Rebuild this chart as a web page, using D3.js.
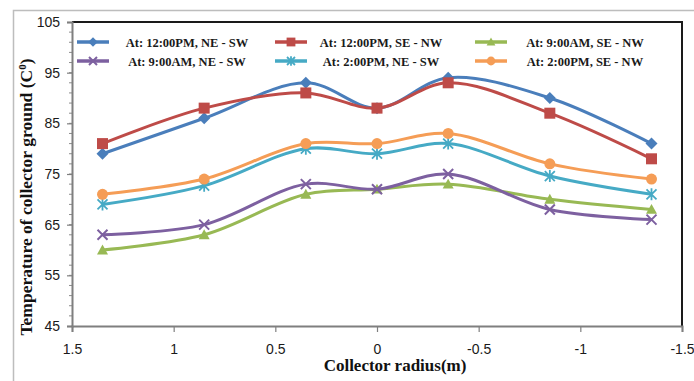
<!DOCTYPE html>
<html>
<head>
<meta charset="utf-8">
<script src="https://cdn.jsdelivr.net/npm/d3@7"></script>
<style>
  body { margin: 0; background: #fff; }
  svg { display: block; }
</style>
</head>
<body>
<svg id="chart" width="694" height="381"></svg>
<script>
// collector radius positions (m)
const radius = [1.35, 0.85, 0.35, 0, -0.35, -0.85, -1.35]

const seriesNames = [
  'At: 12:00PM, NE - SW',
  'At: 12:00PM, SE - NW',
  'At: 9:00AM, SE - NW',
  'At: 9:00AM, NE - SW',
  'At: 2:00PM, NE - SW',
  'At: 2:00PM, SE - NW'
]

const noonNESW = [79, 86, 93, 88, 94, 90, 81]
const noonSENW = [81, 88, 91, 88, 93, 87, 78]
const nineSENW = [60, 63, 71, 72, 73, 70, 68]
const nineNESW = [63, 65, 73, 72, 75, 68, 66]
const twoNESW = [69, 72.7, 80, 79, 81, 74.6, 71]
const twoSENW = [71, 74, 81, 81, 83, 77, 74]

const xTicks = [1.5, 1, 0.5, 0, -0.5, -1, -1.5]
const yTicks = [45, 55, 65, 75, 85, 95, 105]

const colors = ['#4A7EBB', '#BE4B48', '#98B954', '#7D60A0', '#46AAC5', '#F59D56']
const markers = ['diamond', 'square', 'triangle', 'cross', 'star', 'circle']

const series = [noonNESW, noonSENW, nineSENW, nineNESW, twoNESW, twoSENW].map((vals, i) => ({
  name: seriesNames[i],
  color: colors[i],
  marker: markers[i],
  points: vals.map((v, j) => ({ x: radius[j], y: v }))
}))

// legend layout: 2 rows x 3 columns, series index per slot
const legendOrder = [0, 1, 2, 3, 4, 5]

const svg = d3.select('#chart')
const plotL = 72, plotR = 682, plotT = 22, plotB = 326

const x = d3.scaleLinear().domain([1.5, -1.5]).range([plotL, plotR])
const y = d3.scaleLinear().domain([45, 105]).range([plotB, plotT])

// outer chart frame
svg.append('path')
  .attr('d', `M13.5,381 V10.5 H694`)
  .attr('fill', 'none')
  .attr('stroke', '#bdbdbd')
  .attr('stroke-width', 1.5)

// plot border (top + right dark)
svg.append('path')
  .attr('d', `M${plotL},${plotT} H${plotR} V${plotB}`)
  .attr('fill', 'none')
  .attr('stroke', '#1a1a1a')
  .attr('stroke-width', 2)

// minor y ticks every 2
const minorY = d3.range(47, 105, 2)
svg.append('g')
  .selectAll('line')
  .data(minorY)
  .join('line')
  .attr('x1', plotL - 3).attr('x2', plotL)
  .attr('y1', d => y(d)).attr('y2', d => y(d))
  .attr('stroke', '#8c8c8c')
  .attr('stroke-width', 1)

// y axis
const yAxis = svg.append('g')
  .attr('transform', `translate(${plotL},0)`)
  .call(d3.axisLeft(y).tickValues(yTicks).tickSize(5).tickPadding(7).tickFormat(d3.format('d')))
yAxis.select('.domain').attr('stroke', '#7f7f7f').attr('stroke-width', 2)
yAxis.selectAll('.tick line').attr('stroke', '#7f7f7f').attr('stroke-width', 1.2)
yAxis.selectAll('text')
  .attr('font-family', 'Liberation Sans, Arial, sans-serif')
  .attr('font-size', 14)
  .attr('fill', '#1a1a1a')

// x axis (plain hyphen for negatives, like the original)
const xAxis = svg.append('g')
  .attr('transform', `translate(0,${plotB})`)
  .call(d3.axisBottom(x).tickValues(xTicks).tickSize(6).tickPadding(12).tickFormat(d => String(d)))
xAxis.select('.domain').attr('stroke', '#7f7f7f').attr('stroke-width', 2)
xAxis.selectAll('.tick line').attr('stroke', '#7f7f7f').attr('stroke-width', 1.2)
xAxis.selectAll('text')
  .attr('font-family', 'Liberation Sans, Arial, sans-serif')
  .attr('font-size', 14)
  .attr('fill', '#1a1a1a')

// axis titles
svg.append('text')
  .attr('x', 395)
  .attr('y', 371)
  .attr('text-anchor', 'middle')
  .attr('font-family', 'Liberation Serif, Times New Roman, serif')
  .attr('font-weight', 'bold')
  .attr('font-size', 17)
  .attr('fill', '#111')
  .text('Collector radius(m)')

const yTitle = svg.append('text')
  .attr('transform', `translate(32,197) rotate(-90)`)
  .attr('text-anchor', 'middle')
  .attr('font-family', 'Liberation Serif, Times New Roman, serif')
  .attr('font-weight', 'bold')
  .attr('font-size', 17.5)
  .attr('fill', '#111')
yTitle.append('tspan').text('Temperature of collector ground (C')
yTitle.append('tspan').attr('dy', -6).attr('font-size', 11).text('0')
yTitle.append('tspan').attr('dy', 6).text(')')

// marker shapes
function drawMarker(g, type, color, s) {
  if (type === 'diamond') {
    g.append('path')
      .attr('d', `M0,${-s}L${s},0L0,${s}L${-s},0Z`)
      .attr('fill', color)
  } else if (type === 'square') {
    g.append('rect')
      .attr('x', -s).attr('y', -s).attr('width', 2 * s).attr('height', 2 * s)
      .attr('fill', color)
  } else if (type === 'triangle') {
    g.append('path')
      .attr('d', `M0,${-s}L${s},${s * 0.8}L${-s},${s * 0.8}Z`)
      .attr('fill', color)
  } else if (type === 'circle') {
    g.append('circle').attr('r', s).attr('fill', color)
  } else if (type === 'cross') {
    g.append('path')
      .attr('d', `M${-s},${-s}L${s},${s}M${-s},${s}L${s},${-s}`)
      .attr('stroke', color).attr('stroke-width', 2).attr('fill', 'none')
  } else if (type === 'star') {
    g.append('path')
      .attr('d', `M${-s},${-s}L${s},${s}M${-s},${s}L${s},${-s}M0,${-s * 1.2}L0,${s * 1.2}`)
      .attr('stroke', color).attr('stroke-width', 1.8).attr('fill', 'none')
  }
}

const markerSize = { diamond: 6, square: 5.5, triangle: 5.5, circle: 5.5, cross: 5, star: 5 }

const line = d3.line()
  .x(d => x(d.x))
  .y(d => y(d.y))
  .curve(d3.curveCatmullRom.alpha(0.5))

series.forEach(s => {
  const g = svg.append('g')
  g.append('path')
    .datum(s.points)
    .attr('d', line)
    .attr('fill', 'none')
    .attr('stroke', s.color)
    .attr('stroke-width', 3)

  s.points.forEach(p => {
    const m = g.append('g').attr('transform', `translate(${x(p.x)},${y(p.y)})`)
    drawMarker(m, s.marker, s.color, markerSize[s.marker])
  })
})

// legend
const colCenters = [187, 381, 585]
const lineStarts = [77, 275, 475]
const rowY = [42, 61]
legendOrder.forEach((si, k) => {
  const s = series[si]
  const col = k % 3, row = Math.floor(k / 3)
  const g = svg.append('g').attr('transform', `translate(0,${rowY[row]})`)
  g.append('line')
    .attr('x1', lineStarts[col]).attr('x2', lineStarts[col] + 32)
    .attr('y1', 0).attr('y2', 0)
    .attr('stroke', s.color).attr('stroke-width', 3.5)
  const m = g.append('g').attr('transform', `translate(${lineStarts[col] + 16},0)`)
  drawMarker(m, s.marker, s.color, markerSize[s.marker] * 0.8)
  g.append('text')
    .attr('x', colCenters[col])
    .attr('y', 4.5)
    .attr('text-anchor', 'middle')
    .attr('font-family', 'Liberation Serif, Times New Roman, serif')
    .attr('font-weight', 'bold')
    .attr('font-size', 12.5)
    .attr('fill', '#1a1a1a')
    .text(s.name)
})
</script>
</body>
</html>
